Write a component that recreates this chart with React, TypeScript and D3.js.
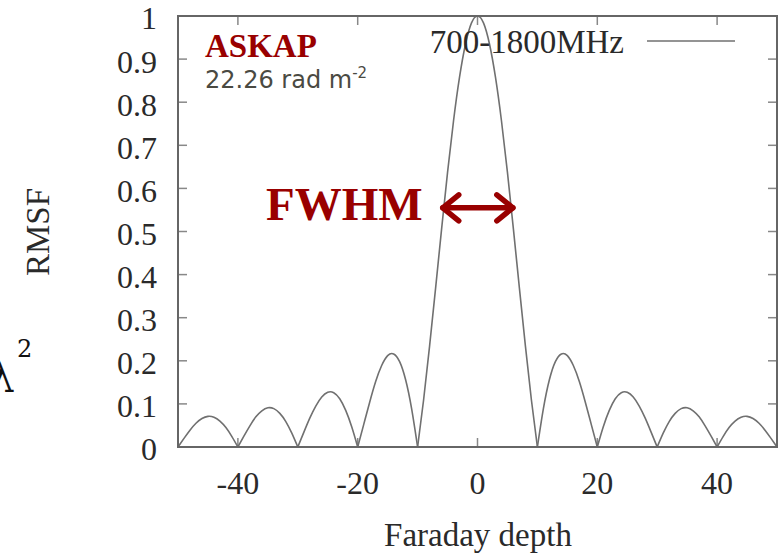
import React from "react";
import * as d3 from "d3";

// Faraday depth grid (rad m^-2)
const depth: number[] = [
  -50, -49, -48, -47, -46, -45, -44, -43, -42, -41, -40, -39, -38, -37, -36, -35, -34, -33, -32, -31,
  -30, -29, -28, -27, -26, -25, -24, -23, -22, -21, -20, -19, -18, -17, -16, -15, -14, -13, -12, -11,
  -10, -9, -8, -7, -6, -5, -4, -3, -2, -1, 0, 1, 2, 3, 4, 5, 6, 7, 8, 9, 10,
  11, 12, 13, 14, 15, 16, 17, 18, 19, 20, 21, 22, 23, 24, 25, 26, 27, 28, 29, 30,
  31, 32, 33, 34, 35, 36, 37, 38, 39, 40, 41, 42, 43, 44, 45, 46, 47, 48, 49, 50,
];

// RMSF amplitude (700-1800MHz)
const rmsf: number[] = [
  0, 0.020, 0.039, 0.055, 0.066, 0.071, 0.069, 0.060, 0.045, 0.024,
  0, 0.025, 0.049, 0.070, 0.084, 0.091, 0.089, 0.078, 0.059, 0.032,
  0, 0.034, 0.067, 0.095, 0.116, 0.127, 0.126, 0.112, 0.085, 0.047,
  0, 0.052, 0.104, 0.152, 0.189, 0.212, 0.216, 0.198, 0.156, 0.089,
  0, 0.109, 0.234, 0.368, 0.505, 0.637, 0.757, 0.858, 0.935, 0.984,
  1.0,
  0.984, 0.935, 0.858, 0.757, 0.637, 0.505, 0.368, 0.234, 0.109, 0,
  0.089, 0.156, 0.198, 0.216, 0.212, 0.189, 0.152, 0.104, 0.052, 0,
  0.047, 0.085, 0.112, 0.126, 0.127, 0.116, 0.095, 0.067, 0.034, 0,
  0.032, 0.059, 0.078, 0.089, 0.091, 0.084, 0.070, 0.049, 0.025, 0,
  0.024, 0.045, 0.060, 0.069, 0.071, 0.066, 0.055, 0.039, 0.020, 0,
];

const xTicks: number[] = [-40, -20, 0, 20, 40];
const yTicks: number[] = [0, 0.1, 0.2, 0.3, 0.4, 0.5, 0.6, 0.7, 0.8, 0.9, 1];
const yTickLabels: string[] = ["0", "0.1", "0.2", "0.3", "0.4", "0.5", "0.6", "0.7", "0.8", "0.9", "1"];

const seriesName = "700-1800MHz";
const telescope = "ASKAP";
const resolution = "22.26 rad m";
const xLabel = "Faraday depth";
const yLabel = "RMSF";

export default function App() {
  const W = 780;
  const H = 554;
  const left = 178;
  const right = 777;
  const top = 16;
  const bottom = 447;

  const x = d3.scaleLinear().domain([-50, 50]).range([left, right]);
  const y = d3.scaleLinear().domain([0, 1]).range([bottom, top]);

  const pts: [number, number][] = depth.map((d, i) => [d, rmsf[i]]);
  const lobes: [number, number][][] = [];
  let cur: [number, number][] = [];
  pts.forEach((p) => {
    cur.push(p);
    if (p[1] === 0 && cur.length > 1) {
      lobes.push(cur);
      cur = [p];
    }
  });
  if (cur.length > 1) lobes.push(cur);

  const line = d3
    .line<[number, number]>()
    .x((d) => x(d[0]))
    .y((d) => y(d[1]))
    .curve(d3.curveNatural);

  const serif = "'Liberation Serif', 'Times New Roman', serif";
  const red = "#990000";
  const frame = "#666";
  const tickLen = 9;

  // FWHM arrow geometry in data units
  const arrowY = 0.555;
  const arrowX0 = -5.8;
  const arrowX1 = 5.9;

  return (
    <svg
      width={W}
      height={H}
      style={{ position: "absolute", left: 0, top: 0, background: "#fff" }}
    >
      <defs>
        <clipPath id="plotclip">
          <rect x={left} y={top - 2} width={right - left} height={bottom - top + 2} />
        </clipPath>
      </defs>

      {/* ticks (inside, mirrored) */}
      {yTicks.map((t) => (
        <g key={"yt" + t}>
          <line x1={left} x2={left + tickLen} y1={y(t)} y2={y(t)} stroke="#888" strokeWidth={1.5} />
          <line x1={right} x2={right - tickLen} y1={y(t)} y2={y(t)} stroke="#888" strokeWidth={1.5} />
        </g>
      ))}
      {xTicks.map((t) => (
        <g key={"xt" + t}>
          <line x1={x(t)} x2={x(t)} y1={bottom} y2={bottom - tickLen} stroke="#888" strokeWidth={1.5} />
          <line x1={x(t)} x2={x(t)} y1={top} y2={top + tickLen} stroke="#888" strokeWidth={1.5} />
        </g>
      ))}

      {/* curve */}
      <g clipPath="url(#plotclip)">
        {lobes.map((l, i) => (
          <path key={i} d={line(l) || ""} fill="none" stroke="#707070" strokeWidth={1.6} />
        ))}
      </g>

      {/* frame */}
      <rect
        x={left}
        y={top}
        width={right - left}
        height={bottom - top}
        fill="none"
        stroke={frame}
        strokeWidth={2}
      />

      {/* y tick labels */}
      {yTicks.map((t, i) => (
        <text
          key={"yl" + t}
          x={157}
          y={y(t)}
          dy="0.42em"
          textAnchor="end"
          fontFamily={serif}
          fontSize={32}
          fill="#2a2a2a"
        >
          {yTickLabels[i]}
        </text>
      ))}

      {/* x tick labels */}
      {xTicks.map((t) => (
        <text
          key={"xl" + t}
          x={x(t)}
          y={494}
          textAnchor="middle"
          fontFamily={serif}
          fontSize={32}
          fill="#2a2a2a"
        >
          {String(t)}
        </text>
      ))}

      {/* axis titles */}
      <text x={478} y={546} textAnchor="middle" fontFamily={serif} fontSize={33} fill="#2a2a2a">
        {xLabel}
      </text>
      <text
        transform={`translate(49, 232) rotate(-90)`}
        textAnchor="middle"
        fontFamily={serif}
        fontSize={33}
        fill="#2a2a2a"
      >
        {yLabel}
      </text>

      {/* legend */}
      <text x={624} y={53} textAnchor="end" fontFamily={serif} fontSize={33} fill="#2a2a2a">
        {seriesName}
      </text>
      <line x1={647} x2={735} y1={41} y2={41} stroke="#707070" strokeWidth={1.6} />

      {/* ASKAP annotation */}
      <text x={205} y={57} fontFamily={serif} fontWeight="bold" fontSize={33} fill={red}>
        {telescope}
      </text>
      <text x={205} y={88} fontFamily="'DejaVu Sans', sans-serif" fontSize={24} fill="#4a4a42">
        {resolution}
        <tspan dy={-10} fontSize={15}>
          -2
        </tspan>
      </text>

      {/* FWHM annotation */}
      <text x={266} y={220} fontFamily={serif} fontWeight="bold" fontSize={47} fill={red}>
        FWHM
      </text>
      <g stroke={red} strokeWidth={5.5} strokeLinecap="round" strokeLinejoin="round" fill="none">
        <line x1={x(arrowX0)} x2={x(arrowX1)} y1={y(arrowY)} y2={y(arrowY)} />
        <polyline
          points={`${x(arrowX0) + 16},${y(arrowY) - 13} ${x(arrowX0)},${y(arrowY)} ${x(arrowX0) + 16},${y(arrowY) + 13}`}
        />
        <polyline
          points={`${x(arrowX1) - 16},${y(arrowY) - 13} ${x(arrowX1)},${y(arrowY)} ${x(arrowX1) - 16},${y(arrowY) + 13}`}
        />
      </g>

      {/* cut-off lambda^2 from neighbouring panel */}
      <text x={-13} y={392} fontFamily="'DejaVu Serif', serif" fontSize={44} fill="#111">
        λ
      </text>
      <text x={17} y={357} fontFamily="'DejaVu Serif', serif" fontSize={24} fill="#111">
        2
      </text>
    </svg>
  );
}
